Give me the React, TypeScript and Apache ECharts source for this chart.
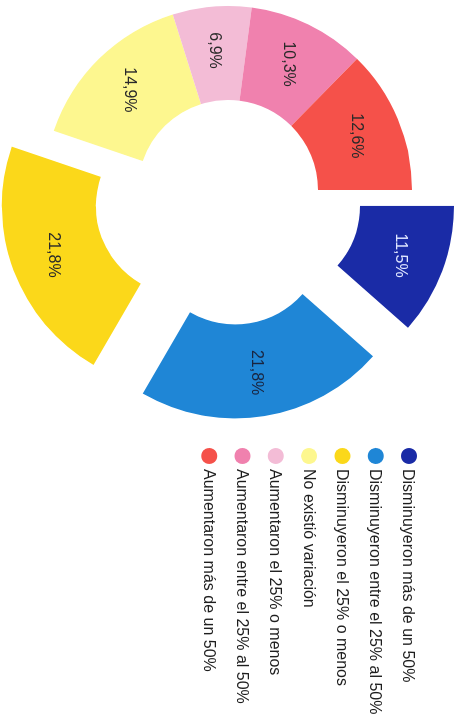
import React, { useEffect, useRef } from "react";
import * as echarts from "echarts";

const categories = [
  "Disminuyeron más de un 50%",
  "Disminuyeron entre el 25% al 50%",
  "Disminuyeron el 25% o menos",
  "No existió variación",
  "Aumentaron el 25% o menos",
  "Aumentaron entre el 25% al 50%",
  "Aumentaron más de un 50%",
];
const values = [11.5, 21.8, 21.8, 14.9, 6.9, 10.3, 12.6];
const colors = ["#1a2ba6", "#1f86d6", "#fbd81a", "#fdf78f", "#f3bcd6", "#f081ae", "#f5514a"];
const exploded = [true, true, true, false, false, false, false];
const labelColors = ["#dfe6ff", "#1a2540", "#2a2a2a", "#2a2a2a", "#2a2a2a", "#2a2a2a", "#2a2a2a"];

export default function App() {
  const ref = useRef<HTMLDivElement>(null);
  useEffect(() => {
    if (!ref.current) return;
    const chart = echarts.init(ref.current, undefined, { renderer: "svg" });
    const font = "'Liberation Sans', Arial, sans-serif";
    chart.setOption({
      animation: false,
      legend: {
        orient: "vertical",
        left: 443,
        top: 39,
        icon: "circle",
        itemWidth: 16,
        itemHeight: 16,
        itemGap: 17.3,
        selectedMode: false,
        data: categories,
        textStyle: { fontSize: 16, color: "#1e1e1e", fontFamily: font },
      },
      series: [
        {
          type: "pie",
          center: [190, 233],
          radius: [90, 184],
          startAngle: 90,
          clockwise: true,
          selectedMode: "multiple",
          selectedOffset: 45,
          avoidLabelOverlap: false,
          label: {
            show: true,
            position: "inside",
            fontSize: 16,
            fontFamily: font,
            formatter: (p: any) => p.value.toFixed(1).replace(".", ",") + "%",
          },
          labelLine: { show: false },
          emphasis: { disabled: true },
          data: categories.map((name, i) => ({
            name,
            value: values[i],
            selected: exploded[i],
            itemStyle: { color: colors[i] },
            label: { color: labelColors[i] },
          })),
        },
      ],
    });
    return () => chart.dispose();
  }, []);
  return (
    <div
      style={{
        position: "fixed",
        left: 0,
        top: 0,
        width: 725,
        height: 461,
        transformOrigin: "0 0",
        transform: "translate(461px, 0) rotate(90deg)",
        background: "#fff",
      }}
    >
      <div ref={ref} style={{ width: 725, height: 461 }} />
    </div>
  );
}
